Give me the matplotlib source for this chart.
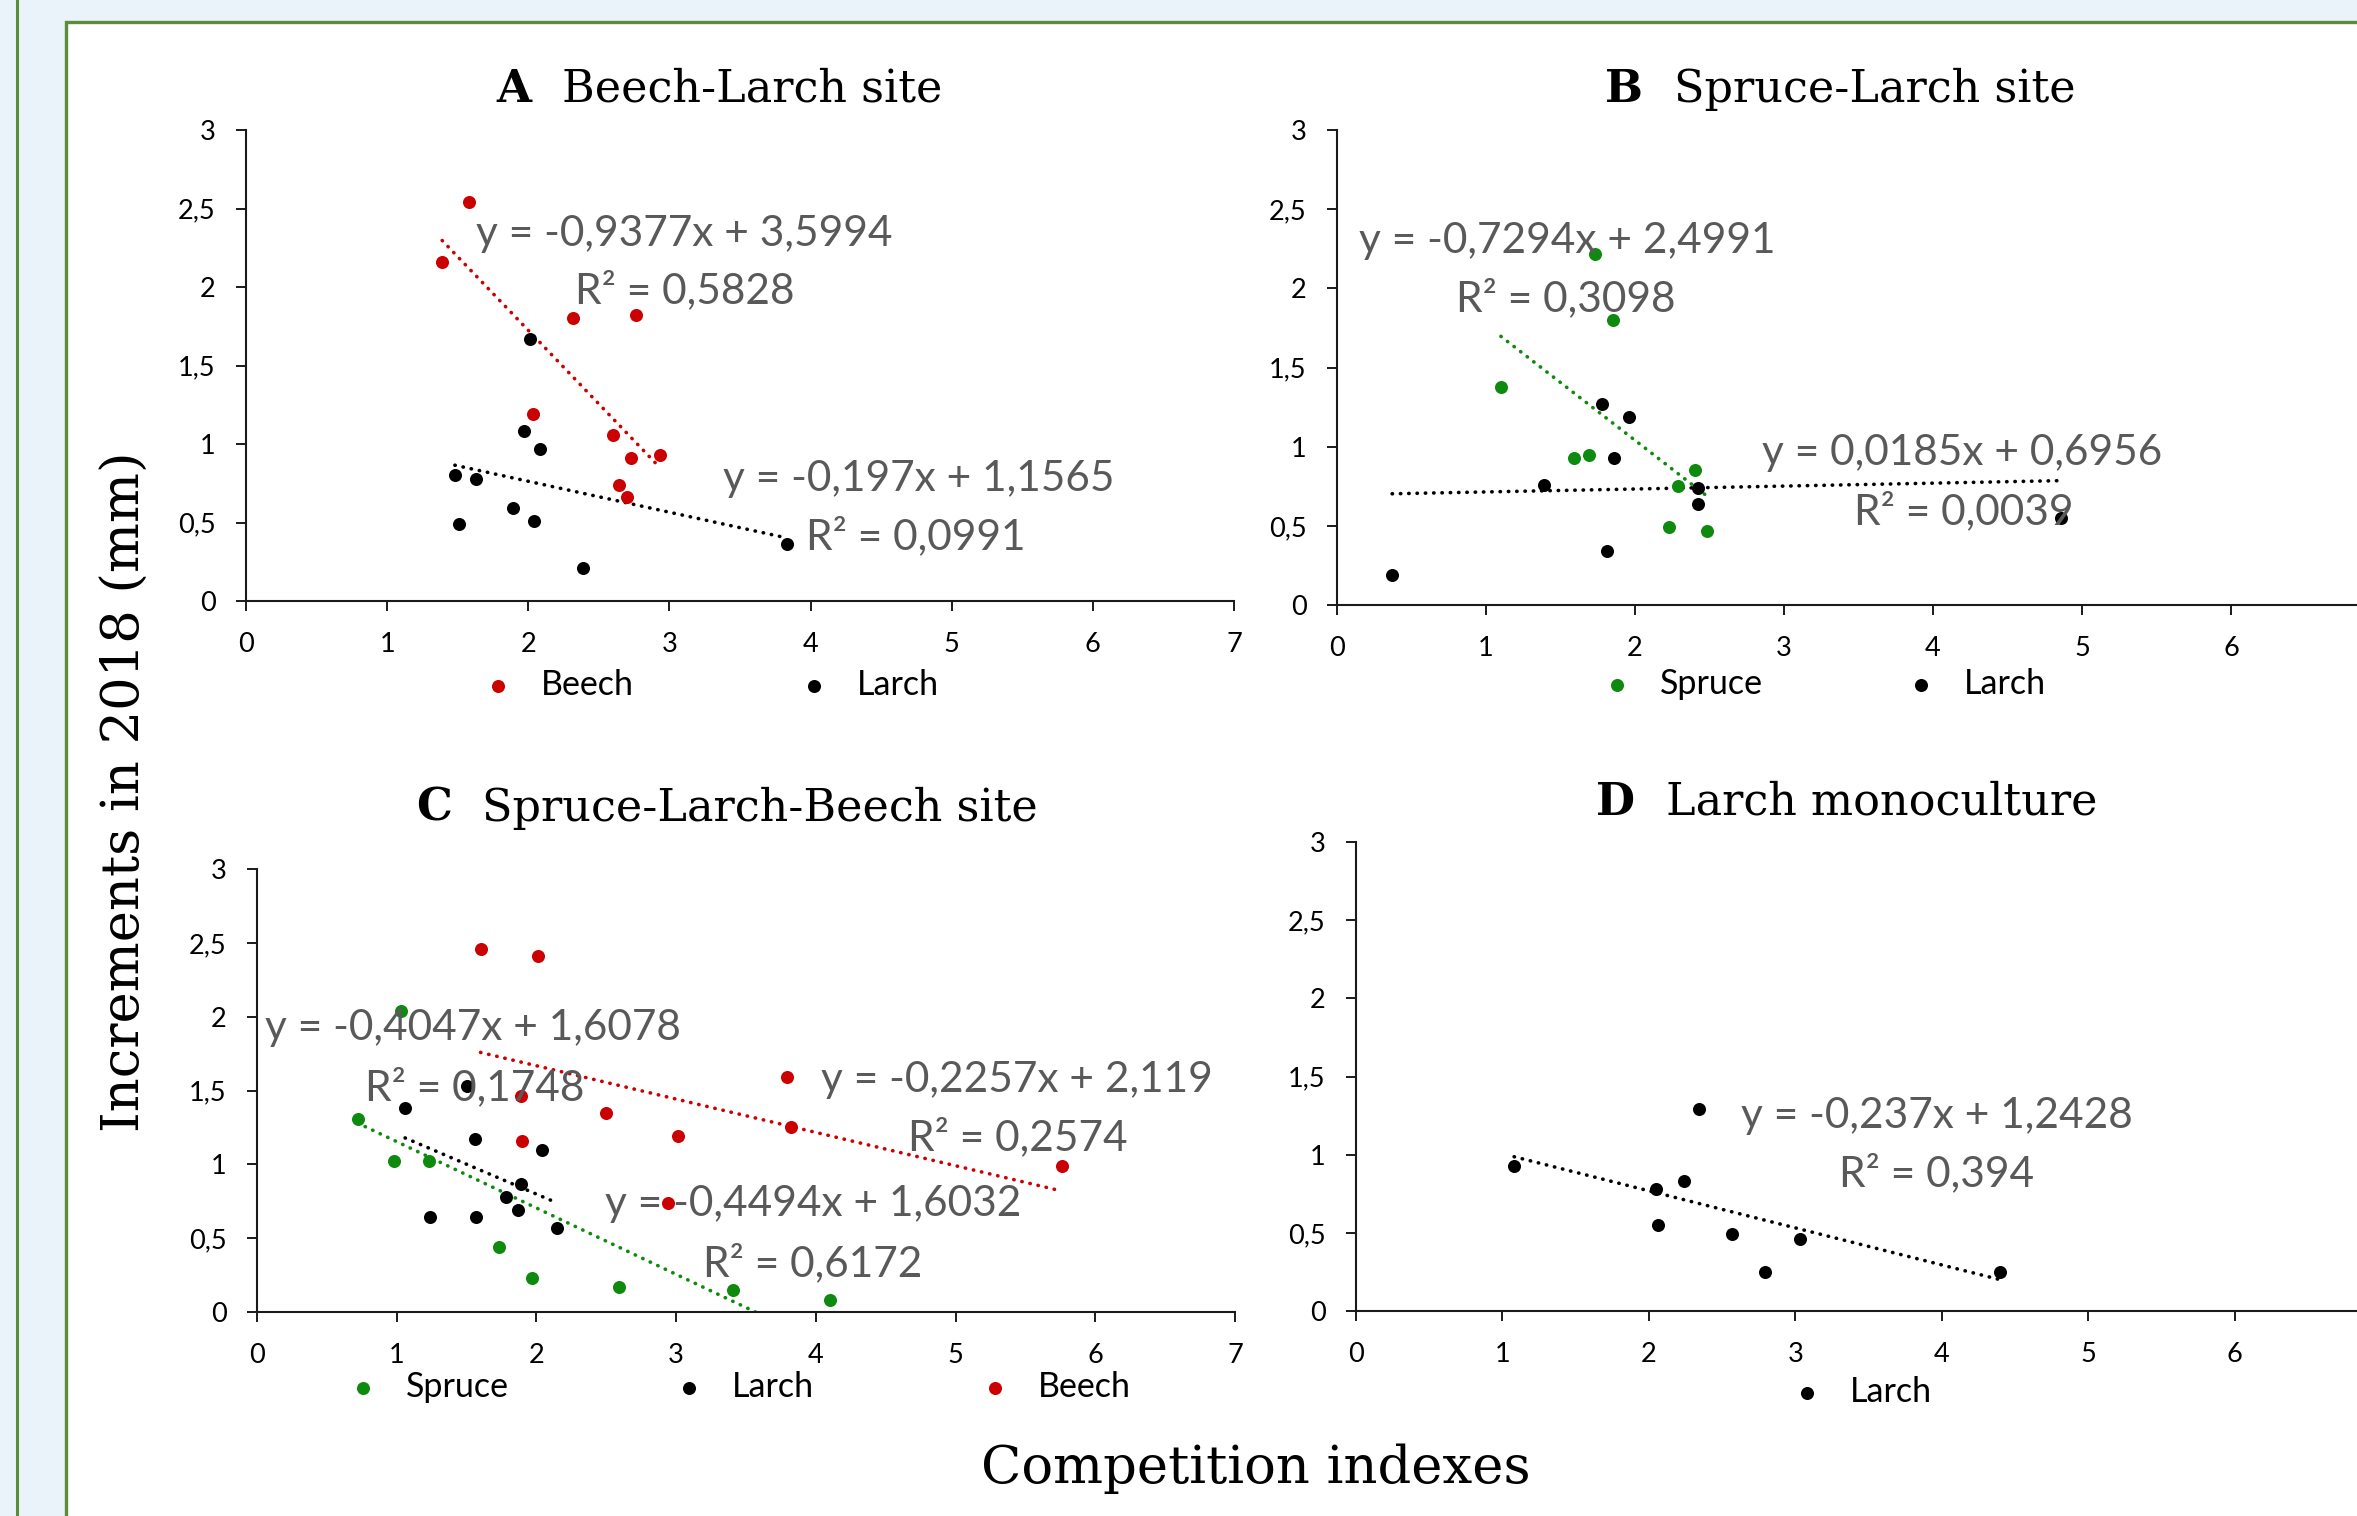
import matplotlib
matplotlib.use("Agg")
import matplotlib.pyplot as plt
from matplotlib.patches import Rectangle
from matplotlib.lines import Line2D
from matplotlib.text import Annotation
from matplotlib.ticker import FuncFormatter, MultipleLocator, FixedLocator
import numpy as np

# ---- data ----
# A  Beech-Larch site
a_beech_x = [1.39, 1.58, 2.32, 2.76, 2.03, 2.60, 2.73, 2.93, 2.64, 2.70]
a_beech_y = [2.16, 2.54, 1.80, 1.82, 1.19, 1.06, 0.91, 0.93, 0.74, 0.66]
a_larch_x = [2.01, 1.97, 2.08, 1.48, 1.63, 1.51, 1.89, 2.04, 2.39, 3.83]
a_larch_y = [1.67, 1.08, 0.97, 0.80, 0.78, 0.49, 0.59, 0.51, 0.21, 0.36]

# B  Spruce-Larch site
b_spruce_x = [1.73, 1.85, 1.10, 1.59, 1.69, 2.40, 2.29, 2.23, 2.48]
b_spruce_y = [2.22, 1.80, 1.38, 0.93, 0.95, 0.85, 0.75, 0.49, 0.47]
b_larch_x = [1.78, 1.96, 1.86, 1.39, 2.42, 2.42, 1.81, 0.37, 4.86]
b_larch_y = [1.27, 1.19, 0.93, 0.76, 0.74, 0.64, 0.34, 0.19, 0.55]

# C  Spruce-Larch-Beech site
c_spruce_x = [0.72, 1.03, 0.98, 1.23, 1.73, 1.97, 2.59, 3.41, 4.10]
c_spruce_y = [1.31, 2.04, 1.02, 1.02, 0.44, 0.23, 0.17, 0.15, 0.08]
c_larch_x = [1.06, 1.50, 1.56, 2.04, 1.89, 1.78, 1.87, 1.24, 1.57, 2.15]
c_larch_y = [1.38, 1.53, 1.17, 1.10, 0.87, 0.78, 0.69, 0.64, 0.64, 0.57]
c_beech_x = [1.60, 2.01, 3.79, 1.89, 2.50, 1.90, 3.01, 3.82, 2.94, 5.76]
c_beech_y = [2.46, 2.41, 1.59, 1.46, 1.35, 1.16, 1.19, 1.25, 0.74, 0.99]

# D  Larch monoculture
d_larch_x = [1.08, 2.05, 2.24, 2.34, 2.06, 2.57, 3.03, 2.79, 4.40]
d_larch_y = [0.93, 0.78, 0.83, 1.29, 0.55, 0.49, 0.46, 0.25, 0.25]

RED = "#CC0000"
GREEN = "#0E8A0E"
BLACK = "#000000"
EQ_GREY = "#595959"

W, H = 2357, 1516
fig = plt.figure(figsize=(W / 100, H / 100), dpi=100)
fig.patch.set_facecolor("#EAF2FA")

# frame like the journal figure box (behind the axes)
fig.add_artist(Line2D([17 / W, 17 / W], [0, 1], transform=fig.transFigure,
                      color="#5B8C3A", lw=2.2, zorder=-2))
fig.add_artist(Rectangle((66 / W, -0.1), 1.2, 1.1 - 22 / H, transform=fig.transFigure,
                         facecolor="white", edgecolor="#5B8C3A", lw=2.4, zorder=-2))

TICK_FONT = ["Lato", "DejaVu Sans"]
SERIF = ["DejaVu Serif"]


def px_box(x0, x7, y0, y3):
    # axes box from pixel positions of x=0, x=7, y=0, y=3
    return [x0 / W, 1 - y0 / H, (x7 - x0) / W, (y0 - y3) / H]


def style_axes(ax, xmax_tick=7):
    ax.set_xlim(0, 7)
    ax.set_ylim(0, 3)
    ax.xaxis.set_major_locator(FixedLocator(range(0, xmax_tick + 1)))
    ax.yaxis.set_major_locator(MultipleLocator(0.5))
    fmt = FuncFormatter(lambda v, p: f"{v:g}".replace(".", ","))
    ax.xaxis.set_major_formatter(fmt)
    ax.yaxis.set_major_formatter(fmt)
    for s in ["top", "right"]:
        ax.spines[s].set_visible(False)
    for s in ["left", "bottom"]:
        ax.spines[s].set_linewidth(1.5)
        ax.spines[s].set_color("#1a1a1a")
    ax.tick_params(direction="out", length=7, width=1.4, pad=15, color="#1a1a1a")
    for lab in ax.get_xticklabels() + ax.get_yticklabels():
        lab.set_fontfamily(TICK_FONT)
        lab.set_fontsize(19.5)
    ax.patch.set_alpha(0)


def trend(ax, x, slope, icpt, color):
    xs = np.array([min(x), max(x)])
    ax.plot(xs, slope * xs + icpt, color=color, lw=2.6,
            linestyle=(0, (0.1, 2.2)), dash_capstyle="round", zorder=2)


def eq(ax, x, y, s):
    ax.text(x, y, s, color=EQ_GREY, fontsize=30.5, family=TICK_FONT, va="center", ha="left", zorder=4)


def title(xpx, ypx, letter, name):
    t = fig.text(xpx / W, 1 - ypx / H, letter, fontsize=32.5, fontweight="bold",
                 family=SERIF, va="baseline", ha="left")
    fig.add_artist(Annotation(name, xy=(1, 0), xycoords=t, xytext=(22, 0), textcoords="offset points",
                              fontsize=32, family=SERIF, va="bottom", ha="left", annotation_clip=False))


def legend(ax, handles, cx, cy, colsp=4.8):
    ax.legend(handles=handles, loc="center", bbox_to_anchor=(cx, cy), ncol=len(handles),
              frameon=False, handlelength=1.0, handletextpad=0.76, columnspacing=colsp,
              scatterpoints=1, prop={"family": TICK_FONT, "size": 24.5})


MS = 88

# ---- A ----
axA = fig.add_axes(px_box(246, 1234, 601, 130))
hb = axA.scatter(a_beech_x, a_beech_y, s=MS, color=RED, label="Beech", zorder=3, linewidths=0)
hl = axA.scatter(a_larch_x, a_larch_y, s=MS, color=BLACK, label="Larch", zorder=3, linewidths=0)
trend(axA, a_beech_x, -0.9377, 3.5994, RED)
trend(axA, a_larch_x, -0.197, 1.1565, BLACK)
eq(axA, 1.63, 2.34, "y = -0,9377x + 3,5994")
eq(axA, 2.33, 1.98, "R² = 0,5828")
eq(axA, 3.38, 0.78, "y = -0,197x + 1,1565")
eq(axA, 3.97, 0.41, "R² = 0,0991")
style_axes(axA)
legend(axA, [hb, hl], 0.47, -0.178)

# ---- B ----
axB = fig.add_axes(px_box(1337, 2380, 605, 130))
hs = axB.scatter(b_spruce_x, b_spruce_y, s=MS, color=GREEN, label="Spruce", zorder=3, linewidths=0)
hl = axB.scatter(b_larch_x, b_larch_y, s=MS, color=BLACK, label="Larch", zorder=3, linewidths=0)
trend(axB, b_spruce_x, -0.7294, 2.4991, GREEN)
trend(axB, b_larch_x, 0.0185, 0.6956, BLACK)
eq(axB, 0.15, 2.30, "y = -0,7294x + 2,4991")
eq(axB, 0.80, 1.94, "R² = 0,3098")
eq(axB, 2.85, 0.96, "y = 0,0185x + 0,6956")
eq(axB, 3.47, 0.59, "R² = 0,0039")
style_axes(axB, 6)
legend(axB, [hs, hl], 0.466, -0.166, colsp=4.15)

# ---- C ----
axC = fig.add_axes(px_box(257, 1235, 1312, 869))
hs = axC.scatter(c_spruce_x, c_spruce_y, s=MS, color=GREEN, label="Spruce", zorder=3, linewidths=0)
hl = axC.scatter(c_larch_x, c_larch_y, s=MS, color=BLACK, label="Larch", zorder=3, linewidths=0)
hb = axC.scatter(c_beech_x, c_beech_y, s=MS, color=RED, label="Beech", zorder=3, linewidths=0)
trend(axC, c_spruce_x, -0.4494, 1.6032, GREEN)
trend(axC, c_larch_x, -0.4047, 1.6078, BLACK)
trend(axC, c_beech_x, -0.2257, 2.119, RED)
eq(axC, 0.06, 1.92, "y = -0,4047x + 1,6078")
eq(axC, 0.77, 1.52, "R² = 0,1748")
eq(axC, 4.04, 1.57, "y = -0,2257x + 2,119")
eq(axC, 4.66, 1.18, "R² = 0,2574")
eq(axC, 2.49, 0.73, "y = -0,4494x + 1,6032")
eq(axC, 3.19, 0.33, "R² = 0,6172")
style_axes(axC)
legend(axC, [hs, hl, hb], 0.492, -0.169)

# ---- D ----
axD = fig.add_axes(px_box(1356, 2381, 1311, 842))
hl = axD.scatter(d_larch_x, d_larch_y, s=MS, color=BLACK, label="Larch", zorder=3, linewidths=0)
trend(axD, d_larch_x, -0.237, 1.2428, BLACK)
eq(axD, 2.63, 1.25, "y = -0,237x + 1,2428")
eq(axD, 3.30, 0.88, "R² = 0,394")
style_axes(axD, 6)
legend(axD, [hl], 0.493, -0.172)

# titles
title(496, 102, "A", "Beech-Larch site")
title(1605, 102, "B", "Spruce-Larch site")
title(416, 821, "C", "Spruce-Larch-Beech site")
title(1596, 815, "D", "Larch monoculture")

fig.text(125 / W, 1 - 792 / H, "Increments in 2018 (mm)", rotation=90, fontsize=38,
         family=SERIF, va="center", ha="center")
fig.text(1256 / W, 1 - 1469 / H, "Competition indexes", fontsize=38,
         family=SERIF, va="center", ha="center")

fig.savefig("out.png", dpi=100, facecolor=fig.get_facecolor())
